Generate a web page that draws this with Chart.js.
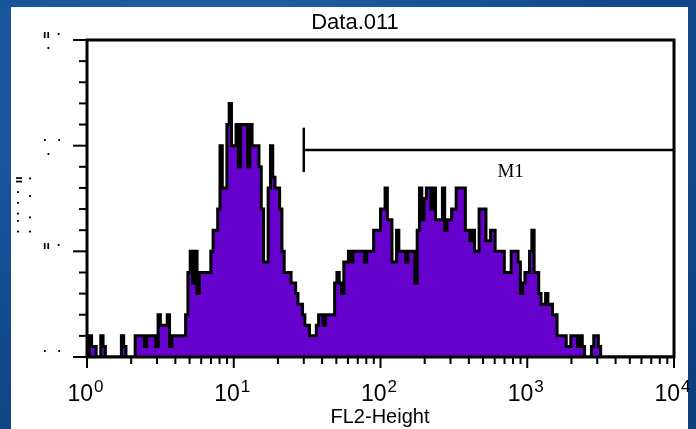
<!DOCTYPE html>
<html>
<head>
<meta charset="utf-8">
<script src="https://cdn.jsdelivr.net/npm/chart.js@4.4.1/dist/chart.umd.min.js"></script>
<style>
  html, body { margin: 0; padding: 0; }
  body {
    width: 696px; height: 429px; overflow: hidden; position: relative;
    background: radial-gradient(ellipse at 30% 20%, #2466ad 0%, #154f95 45%, #0c3d7c 100%);
  }
  #panel { position: absolute; left: 11px; top: 7px; width: 677px; height: 422px; background: #fff; }
  #chart { position: absolute; left: 0; top: 0; }
</style>
</head>
<body>
<div id="panel"></div>
<canvas id="chart" width="696" height="429"></canvas>
<script>
// FL2-Height histogram, 256 channels over 4 decades (counts per channel)
const counts = [
  2, 1, 1, 0, 0, 2, 1, 0, 0, 0,
  0, 0, 0, 0, 2, 1, 0, 0, 0, 0,
  2, 2, 2, 2, 1, 2, 2, 2, 2, 1,
  4, 3, 3, 3, 4, 1, 2, 2, 2, 2,
  2, 2, 4, 8, 10, 7, 10, 6, 8, 8,
  8, 8, 8, 10, 12, 12, 14, 20, 16, 16,
  22, 24, 20, 20, 22, 18, 22, 22, 22, 18,
  22, 20, 20, 20, 18, 14, 9, 9, 16, 20,
  17, 16, 16, 14, 10, 8, 8, 8, 7, 7,
  6, 5, 5, 4, 3, 3, 2, 2, 2, 3,
  4, 4, 3, 4, 4, 4, 4, 7, 8, 7,
  6, 9, 9, 10, 9, 10, 10, 10, 10, 10,
  9, 10, 10, 10, 12, 12, 12, 14, 14, 16,
  13, 13, 9, 9, 12, 10, 10, 10, 9, 10,
  10, 10, 7, 12, 16, 13, 15, 16, 16, 14,
  16, 13, 13, 13, 16, 12, 13, 13, 14, 14,
  16, 16, 16, 16, 12, 12, 11, 12, 10, 10,
  14, 14, 14, 11, 11, 12, 12, 10, 10, 10,
  10, 8, 8, 8, 10, 10, 10, 9, 6, 7,
  8, 8, 10, 12, 8, 8, 6, 5, 5, 6,
  5, 5, 4, 4, 2, 2, 2, 2, 1, 1,
  2, 2, 2, 1, 2, 1, 0, 0, 0, 1,
  2, 2, 1, 0, 0, 0, 0, 0, 0, 0,
  0, 0, 0, 0, 0, 0, 0, 0, 0, 0,
  0, 0, 0, 0, 0, 0, 0, 0, 0, 0,
  0, 0, 0, 0, 0, 0
];
const channelsPerDecade = 64;

// axes
const xMin = 1, xMax = 10000;
const xMajorTicks = [1, 10, 100, 1000, 10000];
const xTickExponents = ["0", "1", "2", "3", "4"];
const yMin = 0, yMax = 30;
const yMajorTicks = [0, 10, 20, 30];
const yMinorStep = 2;
// the y labels come out as stray dots in the original export
const yTickLabels = { 30: ["ıı  ·", " ·"], 20: ["·   ·", " ·"], 10: ["ıı  ·"], 0: ["·   ·"] };

// M1 marker
const m1Start = 30, m1End = 10000, m1Level = 19.6, m1Half = 2.1;
const m1LabelX = 770, m1LabelY = 17.5;

const titleText = "Data.011";
const xTitleText = "FL2-Height";

// each channel ends at its upper edge; stepped "before" fills the bin to its left
const histPoints = [{ x: xMin, y: 0 }].concat(
  counts.map((c, i) => ({ x: Math.pow(10, (i + 1) / channelsPerDecade), y: c }))
);

const extras = {
  id: "extras",
  afterDatasetsDraw(chart) {
    const { ctx, chartArea: a, scales } = chart;
    const x = scales.x, y = scales.y;
    ctx.save();
    ctx.strokeStyle = "#000";
    ctx.fillStyle = "#000";

    // frame
    ctx.lineWidth = 3;
    ctx.strokeRect(a.left, a.top, a.right - a.left, a.bottom - a.top);

    // x ticks (major + minor)
    ctx.lineWidth = 2;
    for (let k = 0; k < xMajorTicks.length; k++) {
      const base = xMajorTicks[k];
      const px = x.getPixelForValue(base);
      ctx.beginPath(); ctx.moveTo(px, a.bottom); ctx.lineTo(px, a.bottom + 11); ctx.stroke();
      if (k < xMajorTicks.length - 1) {
        for (let d = 2; d <= 9; d++) {
          const mx = x.getPixelForValue(base * d);
          ctx.beginPath(); ctx.moveTo(mx, a.bottom); ctx.lineTo(mx, a.bottom + 7); ctx.stroke();
        }
      }
    }

    // y ticks
    for (let v = yMin; v <= yMax; v += yMinorStep) {
      const py = y.getPixelForValue(v);
      const major = yMajorTicks.includes(v);
      ctx.beginPath(); ctx.moveTo(a.left, py); ctx.lineTo(a.left - (major ? 14 : 8), py); ctx.stroke();
    }

    // x tick labels 10^n
    ctx.textBaseline = "alphabetic";
    xMajorTicks.forEach((v, k) => {
      const px = x.getPixelForValue(v);
      ctx.font = "23px 'Liberation Sans', Arial, sans-serif";
      const wBase = ctx.measureText("10").width;
      ctx.font = "17px 'Liberation Sans', Arial, sans-serif";
      const wExp = ctx.measureText(xTickExponents[k]).width;
      const left = px - (wBase + wExp) / 2 - 2;
      ctx.font = "23px 'Liberation Sans', Arial, sans-serif";
      ctx.textAlign = "left";
      ctx.fillText("10", left, a.bottom + 44);
      ctx.font = "17px 'Liberation Sans', Arial, sans-serif";
      ctx.fillText(xTickExponents[k], left + wBase + 1, a.bottom + 35);
    });

    // y tick labels (dots)
    ctx.font = "bold 10px 'DejaVu Sans', sans-serif";
    ctx.textAlign = "left";
    yMajorTicks.forEach(v => {
      const py = y.getPixelForValue(v);
      const lines = yTickLabels[v];
      lines.forEach((s, j) => ctx.fillText(s, 43, py - 2 + j * 14));
    });

    // y axis title (dots)
    ctx.save();
    ctx.translate(26, 205);
    ctx.rotate(-Math.PI / 2);
    ctx.textAlign = "center";
    ctx.font = "bold 10px 'DejaVu Sans', sans-serif";
    ctx.fillText("·  · ·  ·  ·  ıı", 0, -4);
    ctx.fillText("·   ·     ·    ·", 0, 8);
    ctx.restore();

    // titles
    ctx.textAlign = "center";
    ctx.font = "22px 'Liberation Sans', Arial, sans-serif";
    ctx.fillText(titleText, 355, 29);
    ctx.font = "20px 'Liberation Sans', Arial, sans-serif";
    ctx.fillText(xTitleText, 380, 423);

    // M1 label
    ctx.font = "19px 'Liberation Serif', 'Times New Roman', serif";
    ctx.textBaseline = "middle";
    ctx.fillText("M1", x.getPixelForValue(m1LabelX), y.getPixelForValue(m1LabelY));
    ctx.restore();
  }
};

new Chart(document.getElementById("chart"), {
  type: "line",
  data: {
    datasets: [
      {
        label: "FL2-Height",
        data: histPoints,
        stepped: "before",
        fill: "origin",
        backgroundColor: "#6600cc",
        borderColor: "#000",
        borderWidth: 3,
        pointRadius: 0
      },
      {
        label: "M1",
        data: [{ x: m1Start, y: m1Level }, { x: m1End, y: m1Level }],
        borderColor: "#000",
        borderWidth: 2.5,
        pointRadius: 0,
        fill: false
      },
      {
        label: "M1 start",
        data: [{ x: m1Start, y: m1Level - m1Half }, { x: m1Start, y: m1Level + m1Half }],
        borderColor: "#000",
        borderWidth: 2.5,
        pointRadius: 0,
        fill: false
      }
    ]
  },
  options: {
    responsive: false,
    animation: false,
    layout: { padding: { left: 87, right: 22, top: 40, bottom: 72 } },
    plugins: { legend: { display: false }, title: { display: false }, tooltip: { enabled: false } },
    scales: {
      x: { type: "logarithmic", min: xMin, max: xMax, display: false },
      y: { type: "linear", min: yMin, max: yMax, display: false }
    }
  },
  plugins: [extras]
});
</script>
</body>
</html>
